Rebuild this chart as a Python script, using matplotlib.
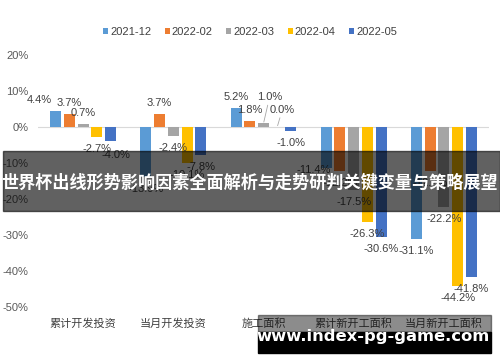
import numpy as np
import matplotlib.pyplot as plt
from matplotlib.patches import Rectangle

plt.rcParams['font.family'] = ['Liberation Sans', 'Noto Sans CJK SC', 'DejaVu Sans']

categories = ['累计开发投资', '当月开发投资', '施工面积', '累计新开工面积', '当月新开工面积']
series_names = ['2021-12', '2022-02', '2022-03', '2022-04', '2022-05']
v_2021_12 = [4.4, -13.9, 5.2, -11.4, -31.1]
v_2022_02 = [3.7, 3.7, 1.8, -12.2, -12.2]
v_2022_03 = [0.7, -2.4, 1.0, -17.5, -22.2]
v_2022_04 = [-2.7, -10.1, 0.0, -26.3, -44.2]
v_2022_05 = [-4.0, -7.8, -1.0, -30.6, -41.8]
values = [v_2021_12, v_2022_02, v_2022_03, v_2022_04, v_2022_05]
colors = ['#5B9BD5', '#ED7D31', '#A5A5A5', '#FFC000', '#4472C4']
yticks = [20, 10, 0, -10, -20, -30, -40, -50]

# label nudges in pixels (category, series) -> (dx, dy), leader lines for crowded ones
nudge = {(0, 0): (-16, 0), (0, 4): (5, -2), (2, 2): (6, 15), (2, 3): (5, 6),
         (3, 0): (-13, 10)}
leader = {(2, 2), (2, 3)}

fig = plt.figure(figsize=(5, 3.62), dpi=100)
ax = fig.add_axes([0.076, 0.152, 0.902, 0.696])

x = np.arange(len(categories))
slot, width = 0.152, 0.122
handles = []
for j, (name, vals, c) in enumerate(zip(series_names, values, colors)):
    xs = x + (j - 2) * slot
    b = ax.bar(xs, vals, width, color=c, label=name, zorder=2)
    handles.append(b)
    for i, (xx, v) in enumerate(zip(xs, vals)):
        dx, dy = nudge.get((i, j), (0, 0))
        base = 11 if v >= 0 else -12
        kw = {}
        if (i, j) in leader:
            kw['arrowprops'] = dict(arrowstyle='-', color='#A6A6A6', lw=0.6,
                                    shrinkA=0, shrinkB=1)
        ax.annotate(f'{v:.1f}%', (xx, v), xytext=(dx, base + dy),
                    textcoords='offset pixels', ha='center', va='center',
                    fontsize=8, color='#404040', zorder=3, **kw)

ax.axhline(0, color='#D9D9D9', lw=0.8, zorder=1)
ax.set_xlim(-0.5, 4.5)
ax.set_ylim(-50, 20)
ax.set_yticks(yticks)
ax.set_yticklabels([f'{t}%' for t in yticks])
ax.set_xticks(x)
ax.set_xticklabels(categories)
ax.tick_params(axis='y', length=0, pad=7, labelsize=8, labelcolor='#595959')
ax.tick_params(axis='x', length=0, pad=8, labelsize=8, labelcolor='#404040')
for s in ax.spines.values():
    s.set_visible(False)

fig.legend(handles=handles, loc='center', bbox_to_anchor=(0.5, 1 - 32 / 362),
           ncol=5, frameon=False, fontsize=8, handlelength=0.45, handleheight=0.45,
           handletextpad=0.2, columnspacing=1.2, labelcolor='#404040')

# overlay banner and watermark
fig.patches.append(Rectangle((3 / 500, 1 - 211 / 362), 497 / 500, 60 / 362,
                             transform=fig.transFigure, color='black', alpha=0.62,
                             zorder=10))
fig.text(0.5, 1 - 183 / 362, '世界杯出线形势影响因素全面解析与走势研判关键变量与策略展望',
         ha='center', va='center', color='white', fontsize=12.3, fontweight='bold',
         family=['Noto Sans CJK SC'], zorder=11)
fig.patches.append(Rectangle((258 / 500, 1 - 332 / 362), 233 / 500, 17 / 362,
                             transform=fig.transFigure, color='black', alpha=0.45,
                             zorder=10))
fig.patches.append(Rectangle((258 / 500, 1 - 353 / 362), 233 / 500, 21 / 362,
                             transform=fig.transFigure, color='black', zorder=10))
fig.text(373.5 / 500, 1 - 337 / 362, 'www.index-pg-game.com', ha='center', va='center',
         color='white', fontsize=11.8, fontweight='bold', family=['DejaVu Sans'], zorder=11)

fig.savefig('out.png', dpi=100)
